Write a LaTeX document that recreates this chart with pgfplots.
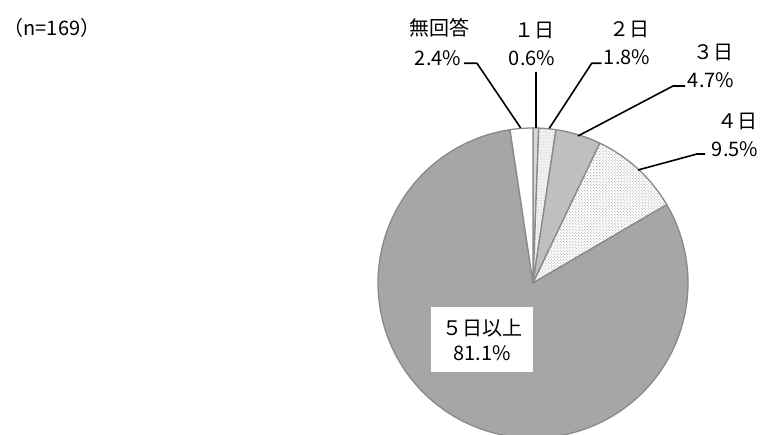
\documentclass[border=0pt]{standalone}
\usepackage{pgfplots}
\pgfplotsset{compat=1.18}
\usetikzlibrary{patterns}
\usepackage{fontspec}
\setmainfont{Noto Sans CJK JP}
\definecolor{edge}{HTML}{898989}
\definecolor{cBig}{HTML}{A6A6A6}
\definecolor{cThree}{HTML}{BFBFBF}
\definecolor{cOne}{HTML}{D9D9D9}
\definecolor{cTwo}{HTML}{F2F2F2}
% counts (n=169): 1日, 2日, 3日, 4日, 5日以上, 無回答
\def\nTotal{169}
\def\cA{1}\def\cB{3}\def\cC{8}\def\cD{16}\def\cE{137}\def\cF{4}
\pgfmathsetmacro\aO{90}
\pgfmathsetmacro\aA{\aO-\cA/\nTotal*360}
\pgfmathsetmacro\aB{\aA-\cB/\nTotal*360}
\pgfmathsetmacro\aC{\aB-\cC/\nTotal*360}
\pgfmathsetmacro\aD{\aC-\cD/\nTotal*360}
\pgfmathsetmacro\aE{\aD-\cE/\nTotal*360}
\pgfmathsetmacro\aF{\aE-\cF/\nTotal*360}
\def\R{155}
\begin{document}
\begin{tikzpicture}
\begin{axis}[
  width=760bp, height=434bp, scale only axis,
  xmin=-533, xmax=227, ymin=-151, ymax=283,
  hide axis, clip mode=individual,
  every axis plot/.append style={line join=round},
  font=\fontsize{20bp}{25bp}\selectfont,
]
% slices
\addplot[draw=edge, line width=1.3bp, fill=cOne, data cs=polar, domain=\aA:\aO, samples=10] {\R} -- (axis cs:0,0) -- cycle;
\addplot[draw=none, fill=cTwo, data cs=polar, domain=\aB:\aA, samples=20] {\R} -- (axis cs:0,0) -- cycle;
\addplot[draw=edge, line width=1.3bp, pattern=dots, pattern color=gray!70, data cs=polar, domain=\aB:\aA, samples=20] {\R} -- (axis cs:0,0) -- cycle;
\addplot[draw=edge, line width=1.3bp, fill=cThree, data cs=polar, domain=\aC:\aB, samples=30] {\R} -- (axis cs:0,0) -- cycle;
\addplot[draw=none, fill=white, data cs=polar, domain=\aD:\aC, samples=40] {\R} -- (axis cs:0,0) -- cycle;
\addplot[draw=edge, line width=1.3bp, pattern=crosshatch dots, pattern color=gray!80, data cs=polar, domain=\aD:\aC, samples=40] {\R} -- (axis cs:0,0) -- cycle;
\addplot[draw=edge, line width=1.3bp, fill=cBig, data cs=polar, domain=\aE:\aD, samples=200] {\R} -- (axis cs:0,0) -- cycle;
\addplot[draw=edge, line width=1.3bp, fill=white, data cs=polar, domain=\aF:\aE, samples=20] {\R} -- (axis cs:0,0) -- cycle;
% leader lines
\addplot[black, line width=1.6bp] coordinates {(-69,219.7) (-56,219.7) (-12.3,155)};
\addplot[black, line width=1.6bp] coordinates {(2.7,211.3) (2.7,155)};
\addplot[black, line width=1.6bp] coordinates {(68.6,219.7) (58.7,219.7) (16.3,154.7)};
\addplot[black, line width=1.6bp] coordinates {(152,197) (140,197) (45,147)};
\addplot[black, line width=1.6bp] coordinates {(172,129) (164,129) (105,113)};
% labels
\node at (axis cs:-94,255) {無回答};
\node at (axis cs:-95,225) {2.4\%};
\node at (axis cs:1,253) {１日};
\node at (axis cs:-1,225) {0.6\%};
\node at (axis cs:96,254) {２日};
\node at (axis cs:94,226) {1.8\%};
\node at (axis cs:180,231) {３日};
\node at (axis cs:178,203) {4.7\%};
\node at (axis cs:204,162) {４日};
\node at (axis cs:202,134) {9.5\%};
\node[fill=white, minimum width=102bp, minimum height=65bp, align=center, inner sep=0pt] at (axis cs:-51,-56.5) {５日以上\\81.1\%};
\node at (axis cs:-481,255) {（n=169）};
\coordinate (bl) at (rel axis cs:0,0);
\coordinate (tr) at (rel axis cs:1,1);
\end{axis}
\pgfresetboundingbox
\useasboundingbox (bl) rectangle (tr);
\end{tikzpicture}
\end{document}
